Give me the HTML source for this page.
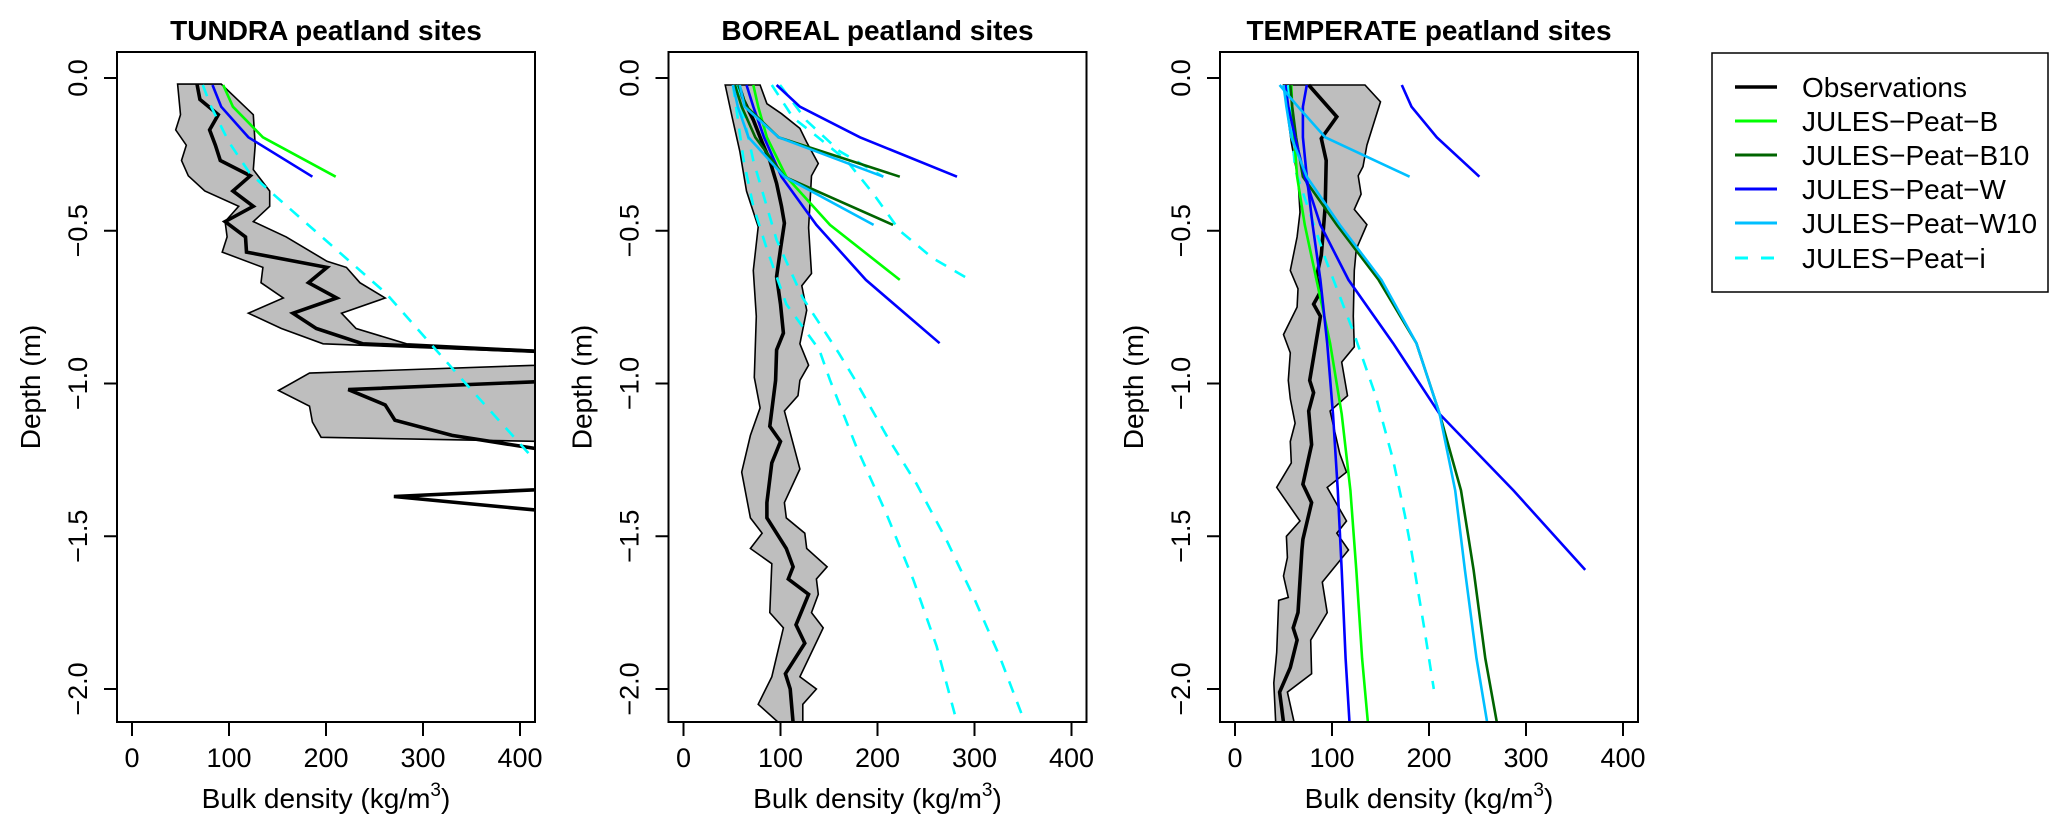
<!DOCTYPE html>
<html><head><meta charset="utf-8">
<style>
html,body{margin:0;padding:0;background:#fff;}
svg{display:block;font-family:"Liberation Sans",Arial,sans-serif;}
</style></head>
<body>
<svg id="chart" width="2067" height="833" viewBox="0 0 2067 833" xmlns="http://www.w3.org/2000/svg">
<defs>
<clipPath id="clip0"><rect x="117" y="52" width="418" height="670"/></clipPath>
<clipPath id="clip1"><rect x="668.5" y="52" width="418" height="670"/></clipPath>
<clipPath id="clip2"><rect x="1220" y="52" width="418" height="670"/></clipPath>
</defs>
<g id="legend">
<rect x="1712" y="53" width="336" height="239" fill="#fff" stroke="#000" stroke-width="1.5"/>
<g><line x1="1735" y1="87" x2="1777" y2="87" stroke="#000" stroke-width="3.5"/><text x="1802" y="97" font-size="28">Observations</text></g>
<g><line x1="1735" y1="121" x2="1777" y2="121" stroke="#00ff00" stroke-width="3"/><text x="1802" y="131" font-size="28">JULES−Peat−B</text></g>
<g><line x1="1735" y1="155" x2="1777" y2="155" stroke="#006400" stroke-width="3"/><text x="1802" y="165" font-size="28">JULES−Peat−B10</text></g>
<g><line x1="1735" y1="189" x2="1777" y2="189" stroke="#0000ff" stroke-width="3"/><text x="1802" y="199" font-size="28">JULES−Peat−W</text></g>
<g><line x1="1735" y1="223" x2="1777" y2="223" stroke="#00bfff" stroke-width="3"/><text x="1802" y="233" font-size="28">JULES−Peat−W10</text></g>
<g><line x1="1735" y1="258" x2="1777" y2="258" stroke="#00ffff" stroke-width="3" stroke-dasharray="13,13"/><text x="1802" y="268" font-size="28">JULES−Peat−i</text></g>
</g>
</svg>
<script>
// ---------- data ----------
const panelTitles = ["TUNDRA peatland sites","BOREAL peatland sites","TEMPERATE peatland sites"];
const xTicks = [0,100,200,300,400];
const yTicks = [0,-0.5,-1.0,-1.5,-2.0];
const yTickLabels = ["0.0","−0.5","−1.0","−1.5","−2.0"];
const layerDepth = [0.023,0.094,0.194,0.323,0.481,0.661,0.868,1.1,1.35,1.61,1.9,2.11];

// Tundra observations
const tunMeanDepth = [0.02,0.07,0.12,0.17,0.22,0.27,0.32,0.37,0.42,0.47,0.52,0.57,0.62,0.67,0.72,0.77,0.82,0.87,0.92,0.97,1.02,1.07,1.12,1.17,1.22,1.27,1.32,1.37,1.47];
const tunMean = [67,70,89,80,86,91,122,104,125,96,117,118,201,182,211,166,190,238,600,600,223,261,271,330,430,null,600,270,600];
const tunLoDepth = [0.02,0.12,0.17,0.22,0.27,0.32,0.37,0.42,0.47,0.52,0.57,0.62,0.67,0.72,0.77,0.82,0.87,0.92,0.966,1.023,1.074,1.126,1.176,1.2];
const tunLo = [47,50,45,56,51,58,75,110,96,98,93,135,133,156,120,154,197,600,183,151,183,186,195,600];
const tunHiDepth = [0.02,0.12,0.22,0.3,0.37,0.42,0.47,0.52,0.6,0.62,0.67,0.72,0.77,0.82,0.87,0.92,1.22];
const tunHi = [92,125,127,125,142,142,125,159,201,221,235,261,216,231,283,600,600];
const tunB = [94,104,135,210];
const tunW = [83,92,120,186];
const tunIDepth = [0.023,0.09,0.21,0.31,0.37,0.705,1.0,1.25];
const tunI = [73,81,100,121,142,262,344,415];

// Boreal observations
const borMeanDepth = [0.023,0.072,0.137,0.21,0.27,0.345,0.42,0.475,0.56,0.65,0.74,0.835,0.89,0.99,1.14,1.19,1.26,1.39,1.44,1.54,1.6,1.64,1.69,1.79,1.85,1.95,2.0,2.11];
const borMean = [57,62,72,81,89,96,101,104,100,96,100,103,96,95,89,100,91,86,86,106,113,108,129,116,125,105,110,113];
const borLoDepth = [0.023,0.126,0.24,0.37,0.487,0.63,0.78,0.98,1.08,1.17,1.29,1.44,1.49,1.54,1.59,1.75,1.8,1.96,2.05,2.11];
const borLo = [43,50,58,65,77,72,75,73,79,69,60,69,81,69,91,89,103,91,77,98];
const borHiDepth = [0.023,0.084,0.117,0.165,0.21,0.28,0.32,0.49,0.64,0.68,0.76,0.87,0.94,0.99,1.04,1.09,1.28,1.39,1.44,1.49,1.54,1.6,1.64,1.69,1.75,1.8,1.96,2.0,2.05,2.11];
const borHi = [79,86,101,120,127,139,132,129,132,122,127,120,129,120,118,104,120,104,106,125,127,148,137,139,132,144,120,137,123,123];
const borW1 = [96,120,182,282];
const borW2 = [65,72,83,101,137,188,264];
const borB1 = [72,77,86,106,151,223];
const borB10a = [56.5,65,98,223];
const borB10b = [53,60,74,104,216];
const borW10a = [58,63,98,206];
const borW10b = [51,56,67,104,196];
const borIADepth = [0.023,0.268,0.42,0.56,0.74,0.89,0.989,1.206,1.425,1.643,1.861,2.11];
const borIA = [51,62,72,86,106,140,151,178,209,237,261,282];
const borIBDepth = [0.023,0.27,0.53,0.72,0.9,0.989,1.174,1.327,1.512,1.698,1.894,2.11];
const borIB = [55,72,96,123,160,177,210,240,271,299,326,352];
const borICDepth = [0.023,0.13,0.19,0.27,0.38,0.5,0.59,0.66];
const borIC = [91,113,137,168,196,223,257,295];
const borIDDepth = [0.023,0.14,0.24,0.323];
const borID = [99.5,127,161,206];

// Temperate observations
const temMeanDepth = [0.023,0.127,0.198,0.27,0.42,0.58,0.65,0.7,0.74,0.78,0.99,1.03,1.09,1.2,1.33,1.39,1.51,1.545,1.75,1.8,1.84,1.93,2.01,2.06,2.11];
const temMean = [76,105,89,94,93,89,84,88,81,88,77,81,76,79,70,79,70,69,65,60,64,57,46,48,50];
const temLoDepth = [0.023,0.21,0.33,0.44,0.52,0.63,0.69,0.75,0.84,0.9,0.99,1.05,1.13,1.19,1.26,1.34,1.45,1.5,1.57,1.63,1.7,1.71,1.88,1.98,2.11];
const temLo = [50,58,65,67,64,57,65,64,50,57,55,57,62,57,58,43,67,53,54,50,55,45,43,40,42];
const temHiDepth = [0.023,0.078,0.22,0.29,0.32,0.38,0.43,0.48,0.56,0.63,0.78,0.88,0.93,1.04,1.09,1.23,1.29,1.34,1.45,1.49,1.545,1.65,1.75,1.84,1.95,2.01,2.11];
const temHi = [134,150,136,132,127,130,123,136,125,123,122,123,110,116,98,108,115,95,115,105,117,90,95,78,79,54,61];
const temW1 = [172,182,208,252];
const temWlong = [52,55,62,72,88,117,163,211,287,361];
const temWvert = [74,70,70,74,80,88,95,101,106,110,114,118];
const temB = [58,59,61,64,72,84,98,110,119,125,131,137];
const temB10 = [57,59,63,70,105,148,187,211,233,246,258,270];
const temW10a = [46,65,93,180];
const temW10b = [50,53,58,74,108,151,187,211,227,237,249,260];
const temIDepth = [0.023,0.3,0.59,0.83,1.04,1.25,1.43,1.55,1.8,2.0];
const temI = [55,62,93,122,145,163,175,182,195,205];

// ---------- drawing ----------
const NS = "http://www.w3.org/2000/svg";
const svg = document.getElementById("chart");
const PITCH = 551.5;
function xScale(p, v){ return 132 + p*PITCH + 0.97*v; }
function yScale(d){ return 78 + 305.5*d; }
function mk(tag, attrs, parent){
  const e = document.createElementNS(NS, tag);
  for (const k in attrs) e.setAttribute(k, attrs[k]);
  (parent||svg).appendChild(e);
  return e;
}
function pathD(p, depths, vals){
  let d = "", pen = false;
  for (let i=0;i<vals.length && i<depths.length;i++){
    if (vals[i]===null){ pen=false; continue; }
    d += (pen?"L":"M") + xScale(p, vals[i]).toFixed(1) + "," + yScale(depths[i]).toFixed(1) + " ";
    pen = true;
  }
  return d;
}
function bandD(p, lod, lo, hid, hi){
  const pts = [];
  for (let i=0;i<lo.length;i++) pts.push(xScale(p,lo[i]).toFixed(1)+","+yScale(lod[i]).toFixed(1));
  for (let i=hi.length-1;i>=0;i--) pts.push(xScale(p,hi[i]).toFixed(1)+","+yScale(hid[i]).toFixed(1));
  return "M" + pts.join(" L") + " Z";
}
const COLORS = {B:"#00ff00", B10:"#006400", W:"#0000ff", W10:"#00bfff", I:"#00ffff"};

const panels = [
  {name:"tundra", band:[tunLoDepth,tunLo,tunHiDepth,tunHi], mean:[tunMeanDepth,tunMean],
   models:[["jules-peat-b",COLORS.B,layerDepth,tunB,false],["jules-peat-w",COLORS.W,layerDepth,tunW,false],["jules-peat-i",COLORS.I,tunIDepth,tunI,true]]},
  {name:"boreal", band:[borLoDepth,borLo,borHiDepth,borHi], mean:[borMeanDepth,borMean],
   models:[["jules-peat-i-a",COLORS.I,borIADepth,borIA,true],["jules-peat-i-b",COLORS.I,borIBDepth,borIB,true],["jules-peat-i-c",COLORS.I,borICDepth,borIC,true],["jules-peat-i-d",COLORS.I,borIDDepth,borID,true],
     ["jules-peat-w-a",COLORS.W,layerDepth,borW1,false],["jules-peat-w-b",COLORS.W,layerDepth,borW2,false],["jules-peat-b",COLORS.B,layerDepth,borB1,false],
     ["jules-peat-b10-a",COLORS.B10,layerDepth,borB10a,false],["jules-peat-b10-b",COLORS.B10,layerDepth,borB10b,false],
     ["jules-peat-w10-a",COLORS.W10,layerDepth,borW10a,false],["jules-peat-w10-b",COLORS.W10,layerDepth,borW10b,false]]},
  {name:"temperate", band:[temLoDepth,temLo,temHiDepth,temHi], mean:[temMeanDepth,temMean],
   models:[["jules-peat-i",COLORS.I,temIDepth,temI,true],["jules-peat-b",COLORS.B,layerDepth,temB,false],["jules-peat-b10",COLORS.B10,layerDepth,temB10,false],
     ["jules-peat-w-short",COLORS.W,layerDepth,temW1,false],["jules-peat-w-long",COLORS.W,layerDepth,temWlong,false],["jules-peat-w-vertical",COLORS.W,layerDepth,temWvert,false],
     ["jules-peat-w10-a",COLORS.W10,layerDepth,temW10a,false],["jules-peat-w10-b",COLORS.W10,layerDepth,temW10b,false]]}
];

panels.forEach((P, p) => {
  const left = 117 + p*PITCH, right = left + 418, cx = left + 209;
  const g = mk("g", {});
  
  
  const t = mk("text", {x: cx, y: 40, "font-size": 28, "font-weight": "bold", "text-anchor": "middle"}, g);
  t.textContent = panelTitles[p];
  
  
  const clipG = mk("g", {"clip-path": "url(#clip"+p+")"}, g);
  
  
  const band = mk("path", {d: bandD(p, P.band[0], P.band[1], P.band[2], P.band[3]), fill:"#bebebe", stroke:"#000", "stroke-width":1.6, "stroke-linejoin":"miter"}, clipG);
  
  
  const mean = mk("path", {d: pathD(p, P.mean[0], P.mean[1]), fill:"none", stroke:"#000", "stroke-width":3.6}, clipG);
  
  
  P.models.forEach(m => {
    const attrs = {d: pathD(p, m[2], m[3]), fill:"none", stroke:m[1], "stroke-width":2.6};
    if (m[4]) attrs["stroke-dasharray"] = "12,10";
    const el = mk("path", attrs, clipG);
    
    
  });
  const box = mk("rect", {x:left, y:52, width:418, height:670, fill:"none", stroke:"#000", "stroke-width":2}, g);
  
  
  const xa = mk("g", {}, g);
  
  
  xTicks.forEach(v => {
    const x = xScale(p, v);
    mk("line", {x1:x, y1:722, x2:x, y2:736, stroke:"#000", "stroke-width":2}, xa);
    const tl = mk("text", {x:x, y:767, "font-size":27, "text-anchor":"middle"}, xa);
    tl.textContent = String(v);
    
    
  });
  const xt = mk("text", {x: cx, y: 808, "font-size":28, "text-anchor":"middle"}, g);
  
  
  xt.appendChild(document.createTextNode("Bulk density (kg/m"));
  const sup = mk("tspan", {dy:-12, "font-size":19}, xt);
  sup.textContent = "3";
  const close = mk("tspan", {dy:12}, xt);
  close.textContent = ")";
  const ya = mk("g", {}, g);
  
  
  yTicks.forEach((v, i) => {
    const y = yScale(-v);
    mk("line", {x1:left-13, y1:y, x2:left, y2:y, stroke:"#000", "stroke-width":2}, ya);
    const lx = left - 30;
    const tl = mk("text", {x:lx, y:y, "font-size":27, "text-anchor":"middle", transform:"rotate(-90 "+lx+" "+y+")"}, ya);
    tl.textContent = yTickLabels[i];
    
    
  });
  const yx = left - 77, yy = 387;
  const yt = mk("text", {x:yx, y:yy, "font-size":28, "text-anchor":"middle", transform:"rotate(-90 "+yx+" "+yy+")"}, g);
  yt.textContent = "Depth (m)";
  
  
});
</script>
</body></html>
